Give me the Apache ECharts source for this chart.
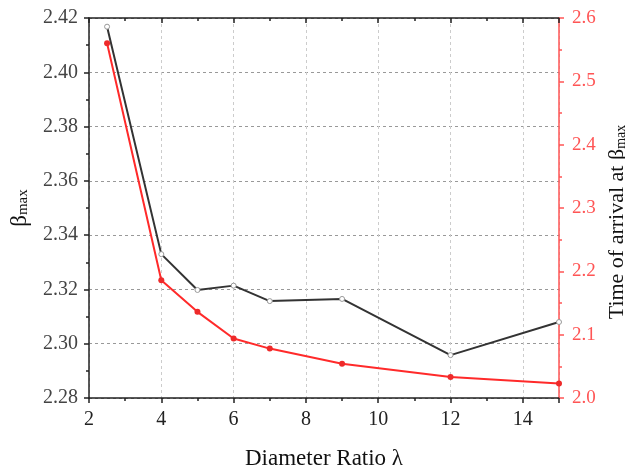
<!DOCTYPE html>
<html><head><meta charset="utf-8">
<script src="https://cdn.jsdelivr.net/npm/echarts@6/dist/echarts.min.js"></script>
<style>html,body{margin:0;padding:0;background:#fff}#c{width:625px;height:472px}</style>
</head><body><div id="c"></div>
<script>
var ratios = [2.5, 4, 5, 6, 7, 9, 12, 15];
var betaMax = [2.4168, 2.3330, 2.3198, 2.3214, 2.3157, 2.3165, 2.2958, 2.3080];
var arrivalTime = [2.560, 2.186, 2.136, 2.094, 2.078, 2.054, 2.033, 2.023];

var font = 'Liberation Serif';
var chart = echarts.init(document.getElementById('c'));
chart.setOption({
  animation: false,
  backgroundColor: '#fff',
  grid: {left: 89, right: 66, top: 18, bottom: 74, containLabel: false, outerBoundsMode: 'none'},
  xAxis: [{
    type: 'value', min: 2, max: 15, interval: 2,
    name: 'Diameter Ratio λ', nameLocation: 'middle', nameGap: 49,
    nameTextStyle: {fontFamily: font, fontSize: 23, color: '#111'},
    axisLine: {lineStyle: {color: '#222', width: 1.5}},
    axisTick: {length: 5, lineStyle: {color: '#222', width: 1.5}},
    minorTick: {show: true, splitNumber: 2, length: 3, lineStyle: {color: '#222', width: 1.5}},
    axisLabel: {fontFamily: font, fontSize: 20, color: '#222', margin: 12, showMaxLabel: false},
    splitLine: {show: true, lineStyle: {color: '#ccc', type: [3, 3], width: 1}}
  }, {
    type: 'value', min: 2, max: 15, interval: 2, position: 'top',
    axisLine: {lineStyle: {color: '#222', width: 1.5}},
    axisTick: {inside: true, length: 5, lineStyle: {color: '#222', width: 1.5}},
    minorTick: {show: true, splitNumber: 2, length: 3, lineStyle: {color: '#222', width: 1.5}},
    axisLabel: {show: false}, splitLine: {show: false}
  }],
  yAxis: [{
    type: 'value', min: 2.28, max: 2.42, interval: 0.02,
    name: '{b|β}{s|max}', nameLocation: 'middle', nameGap: 58, nameRotate: 90,
    nameTextStyle: {rich: {
      b: {fontFamily: font, fontSize: 23, color: '#111'},
      s: {fontFamily: font, fontSize: 15, color: '#111', verticalAlign: 'bottom', padding: [8, 0, 0, 0]}
    }},
    axisLine: {show: true, lineStyle: {color: '#222', width: 1.5}},
    axisTick: {length: 5, lineStyle: {color: '#222', width: 1.5}},
    minorTick: {show: true, splitNumber: 2, length: 3, lineStyle: {color: '#222', width: 1.5}},
    axisLabel: {fontFamily: font, fontSize: 20, color: '#444', margin: 11,
      formatter: function (v) { return v.toFixed(2); }},
    splitLine: {show: true, lineStyle: {color: '#999', type: [3, 3], width: 1}}
  }, {
    type: 'value', min: 2.0, max: 2.6, interval: 0.1, position: 'right',
    name: '{t|Time of arrival at β}{s|max}', nameLocation: 'middle', nameGap: 34, nameRotate: 90,
    nameTextStyle: {padding: [0, 28, 0, 0], rich: {
      t: {fontFamily: font, fontSize: 22, color: '#111'},
      s: {fontFamily: font, fontSize: 14, color: '#111', verticalAlign: 'bottom', padding: [7, 0, 0, 0]}
    }},
    axisLine: {show: true, lineStyle: {color: '#ff5555', width: 1.5}},
    axisTick: {length: 5, lineStyle: {color: '#ff5555', width: 1.5}},
    minorTick: {show: true, splitNumber: 2, length: 3, lineStyle: {color: '#ff5555', width: 1.5}},
    axisLabel: {fontFamily: font, fontSize: 19, color: '#ff5555', margin: 13,
      formatter: function (v) { return v.toFixed(1); }},
    splitLine: {show: false}
  }],
  series: [{
    type: 'line', xAxisIndex: 0, yAxisIndex: 0,
    data: ratios.map(function (x, i) { return [x, betaMax[i]]; }),
    symbol: 'circle', symbolSize: 5, showAllSymbol: true,
    lineStyle: {color: '#333', width: 2},
    itemStyle: {color: '#fff', borderColor: '#999', borderWidth: 1}
  }, {
    type: 'line', xAxisIndex: 0, yAxisIndex: 1,
    data: ratios.map(function (x, i) { return [x, arrivalTime[i]]; }),
    symbol: 'circle', symbolSize: 6, showAllSymbol: true,
    lineStyle: {color: '#ff2a2a', width: 2},
    itemStyle: {color: '#ee2a2a'}
  }]
});
</script></body></html>
